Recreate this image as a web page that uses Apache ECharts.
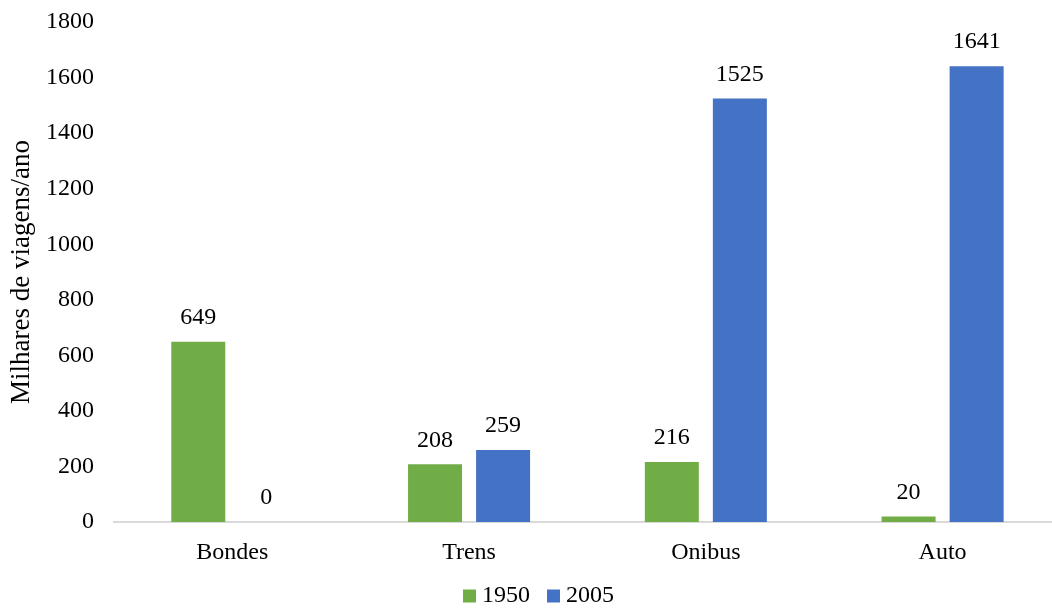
<!DOCTYPE html>
<html>
<head>
<meta charset="utf-8">
<script src="https://cdn.jsdelivr.net/npm/echarts@6/dist/echarts.min.js"></script>
<style>
  html, body { margin: 0; padding: 0; background: #fff; overflow: hidden; }
  #chart { width: 1061px; height: 613px; }
</style>
</head>
<body>
<div id="chart"></div>
<script>
// Viagens por modo de transporte, 1950 e 2005
const categories = ['Bondes', 'Trens', 'Onibus', 'Auto'];
const values1950 = [649, 208, 216, 20];
const values2005 = [0, 259, 1525, 1641];
const yTicks = { min: 0, max: 1800, interval: 200 };

const FONT = '"Liberation Serif", "Times New Roman", serif';
const labelStyle = { show: true, position: 'top', distance: 12, color: '#000', fontFamily: FONT, fontSize: 24 };

const chart = echarts.init(document.getElementById('chart'), null, { renderer: 'canvas' });
chart.setOption({
  animation: false,
  backgroundColor: '#fff',
  textStyle: { fontFamily: FONT },
  grid: { left: 113, top: 22, right: 0, bottom: 91, containLabel: false },
  legend: {
    left: 458, bottom: 0,
    itemWidth: 13, itemHeight: 13, itemGap: 17,
    icon: 'rect',
    textStyle: { fontFamily: FONT, fontSize: 24, color: '#000', padding: [0, 0, 0, 1] },
    data: ['1950', '2005']
  },
  xAxis: {
    type: 'category',
    data: categories,
    axisLine: { lineStyle: { color: '#d9d9d9', width: 2 } },
    axisTick: { show: false },
    axisLabel: { color: '#000', fontFamily: FONT, fontSize: 24, margin: 19 }
  },
  yAxis: {
    type: 'value',
    min: yTicks.min, max: yTicks.max, interval: yTicks.interval,
    name: 'Milhares de viagens/ano',
    nameLocation: 'middle',
    nameGap: 78,
    nameTextStyle: { color: '#000', fontFamily: FONT, fontSize: 27 },
    axisLine: { show: false },
    axisTick: { show: false },
    splitLine: { show: false },
    axisLabel: { color: '#000', fontFamily: FONT, fontSize: 24, margin: 20, formatter: v => String(v) }
  },
  series: [
    {
      name: '1950', type: 'bar', data: values1950,
      barWidth: 54, barGap: '26%',
      itemStyle: { color: '#70ad47' },
      label: labelStyle
    },
    {
      name: '2005', type: 'bar', data: values2005,
      barWidth: 54,
      itemStyle: { color: '#4472c4' },
      label: labelStyle
    }
  ]
});
</script>
</body>
</html>
